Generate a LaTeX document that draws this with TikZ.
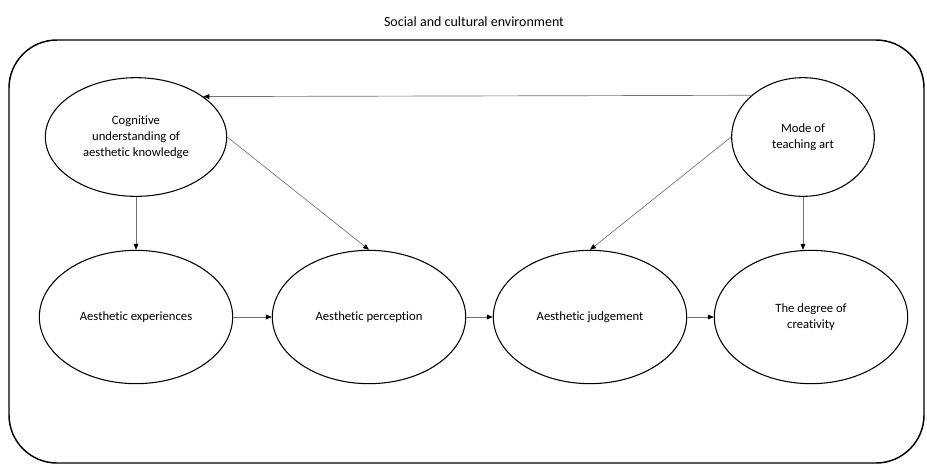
\documentclass[tikz,border=0pt]{standalone}
\usepackage{fontspec}
\setmainfont{Carlito}[Ligatures=NoCommon]
\usepackage{tikz}
\usetikzlibrary{arrows.meta,shapes.geometric,positioning,calc}

\begin{document}
\begin{tikzpicture}[x=0.75pt, y=-0.75pt,
    factor/.style={draw, thick, ellipse, inner sep=0pt, align=center,
        font=\fontsize{9.5}{11.8}\selectfont},
    link/.style={draw=black!55, line width=0.5pt,
        -{Triangle[length=4.5pt, width=3.6pt, color=black]}}]
    \useasboundingbox (0,0) rectangle (927,465);

    % Outer environment
    \node[font=\fontsize{10.5}{12}\selectfont] (env) at (474,22) {Social and cultural environment};
    \draw[line width=1.1pt, rounded corners=36pt] (9,40) rectangle (924,463);

    % Top factors
    \node[factor, minimum width=136pt, minimum height=89pt] (cog) at (136,137)
        {Cognitive\\understanding of\\aesthetic knowledge};
    \node[factor, minimum width=107pt, minimum height=89pt] (mode) at (803,137)
        {Mode of\\teaching art};

    % Chain of outcomes
    \foreach \name/\x/\lab in {exp/136/{Aesthetic experiences}, perc/369/{Aesthetic perception},
                               judg/590/{Aesthetic judgement}, crea/811/{The degree of\\creativity}} {
        \node[factor, minimum width=145pt, minimum height=100pt] (\name) at (\x,317) {\lab};
    }

    % Links
    \draw[link] (mode.141.6) -- (cog.31.8);
    \draw[link] (cog.south) -- (exp.north);
    \draw[link] (cog.east) -- (perc.north);
    \draw[link] (mode.west) -- (judg.north);
    \draw[link] (mode.south) -- (mode.south |- crea.north);
    \draw[link] (exp.east) -- (perc.west);
    \draw[link] (perc.east) -- (judg.west);
    \draw[link] (judg.east) -- (crea.west);
\end{tikzpicture}
\end{document}
